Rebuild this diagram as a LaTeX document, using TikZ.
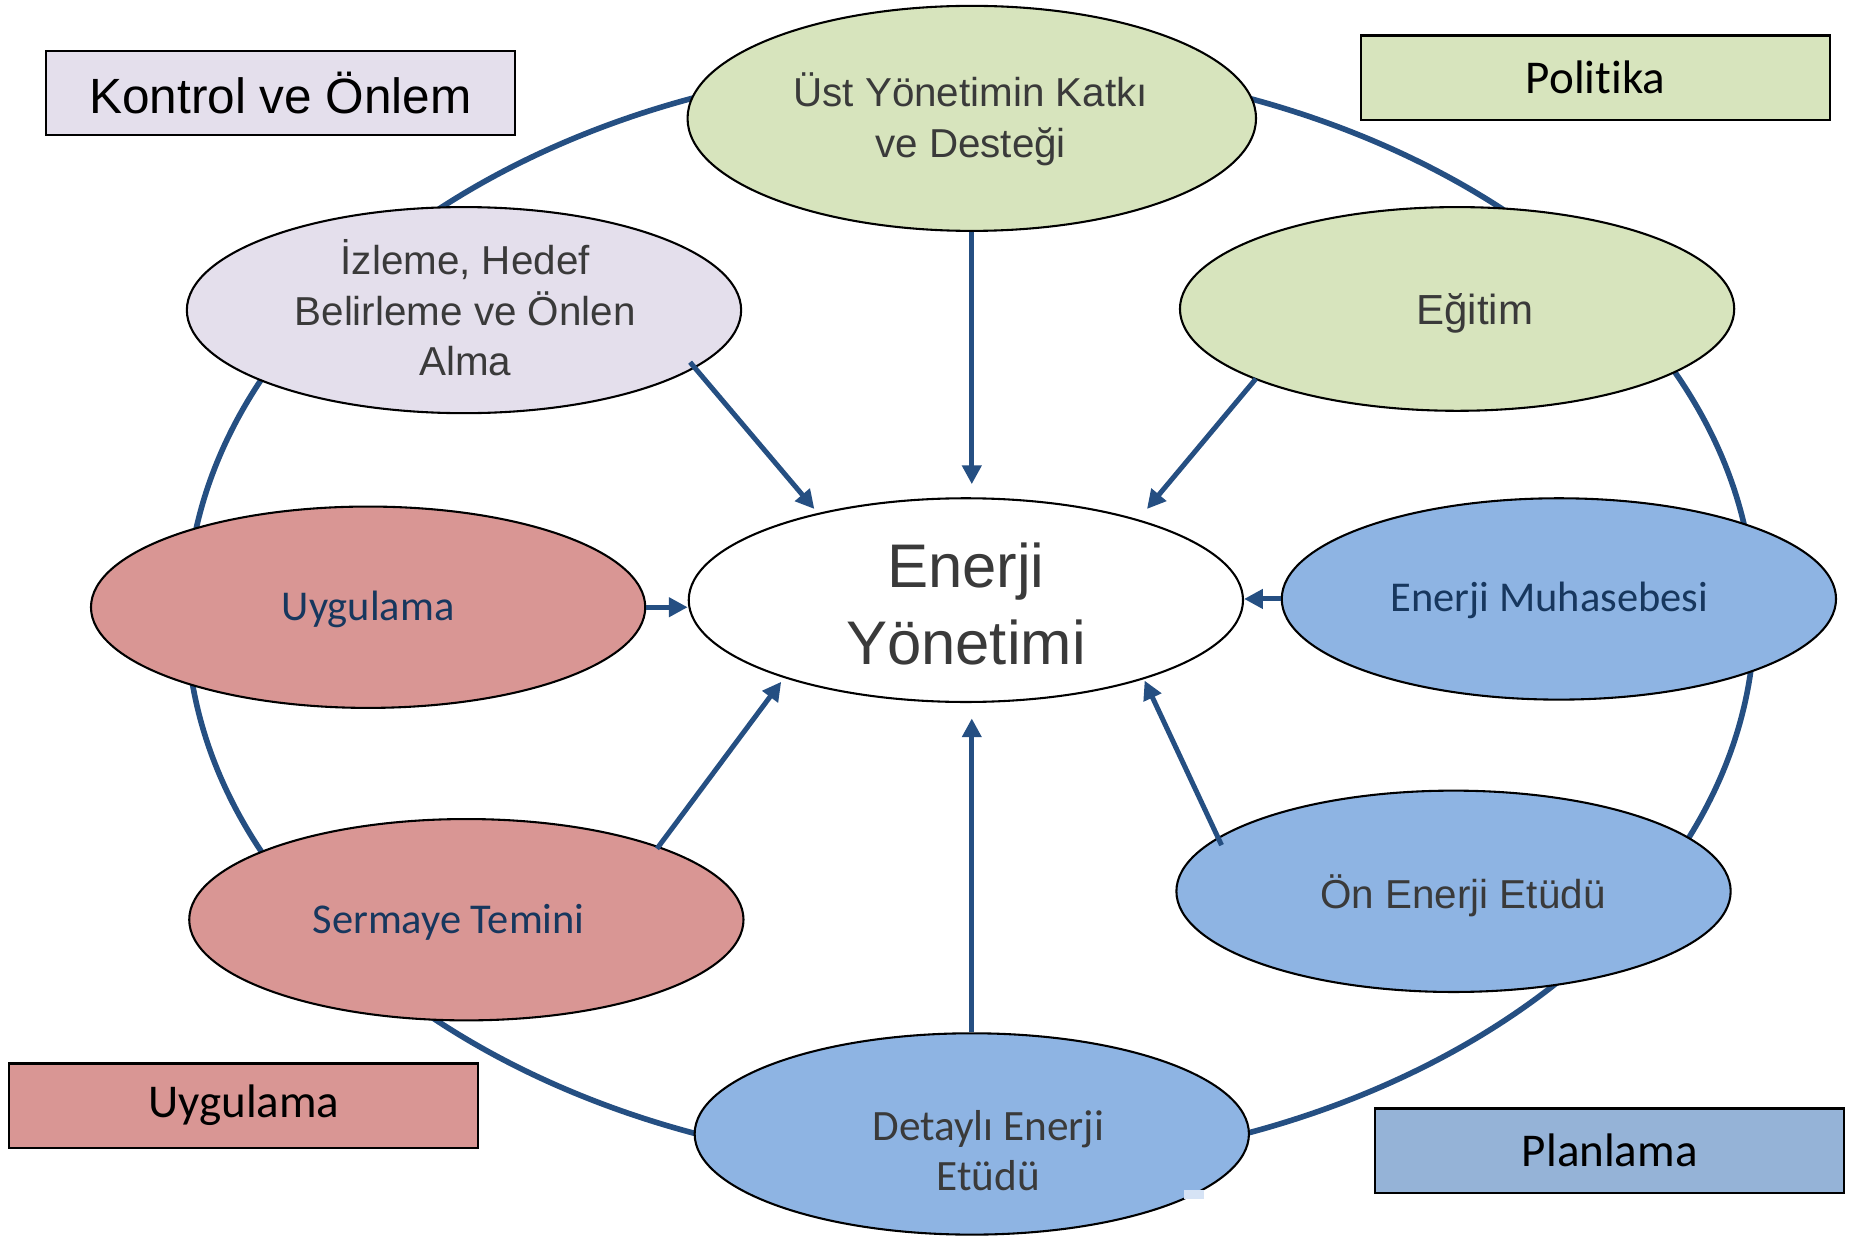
\documentclass[tikz,border=0pt]{standalone}
\usepackage{fontspec}
\setmainfont{Liberation Sans}
\newfontfamily\carlito[Ligatures=NoCommon]{Carlito}
\usetikzlibrary{shapes.geometric,arrows.meta,calc}
\definecolor{ringblue}{HTML}{254F82}
\definecolor{grn}{HTML}{D7E4BD}
\definecolor{lav}{HTML}{E4DFEC}
\definecolor{rd}{HTML}{D99694}
\definecolor{blu}{HTML}{8EB4E3}
\definecolor{boxblu}{HTML}{95B3D7}
\definecolor{gtxt}{HTML}{3A3A3A}
\definecolor{ntxt}{HTML}{17375E}
\definecolor{paleblu}{HTML}{D6E3F5}
\begin{document}
\begin{tikzpicture}[x=0.01cm,y=-0.01cm,
  ring/.style={draw=ringblue, line width=1.35pt},
  arr/.style={draw=ringblue, line width=1.2pt, -{Triangle[length=4.5pt,width=4.5pt]}},
  ell/.style={ellipse, draw=black, line width=0.5pt, minimum width=4.68cm, minimum height=1.7cm, inner sep=0pt},
  lbox/.style={rectangle, draw=black, line width=0.5pt, minimum width=3.96cm, minimum height=0.71cm, inner sep=0pt},
  gtext/.style={text=gtxt, align=center, inner sep=0pt, font=\fontsize{9.7}{12.2}\selectfont},
  ntext/.style={text=ntxt, align=center, inner sep=0pt, font=\carlito\fontsize{10.2}{12.2}\selectfont},
  btext/.style={text=black, inner sep=0pt, font=\carlito\fontsize{11.3}{13}\selectfont}
]
\useasboundingbox (0,0) rectangle (1568,1045);

% outer ring
\draw[ring] (820,520) ellipse [x radius=6.62cm, y radius=4.67cm];

% ellipses
\node[ell, fill=grn, minimum width=4.8cm, minimum height=1.9cm] (top) at (821,100) {};
\node[ell, fill=lav, minimum height=1.74cm] (izl) at (392,262) {};
\node[ell, fill=grn, minimum height=1.72cm] (egt) at (1231,261) {};
\node[ell, fill=white, minimum height=1.72cm] (em) at (816,507) {};
\node[ell, fill=rd] (uyg) at (311,513) {};
\node[ell, fill=blu] (muh) at (1317,506) {};
\node[ell, fill=rd] (ser) at (394,777) {};
\node[ell, fill=blu] (on) at (1228,753) {};
\node[ell, fill=blu] (det) at (821,958) {};
\fill[paleblu] (1000,1005) rectangle (1017,1013);

% texts
\node[gtext] (topT) at (820,101) {Üst Yönetimin Katkı\\ve Desteği};
\node[gtext] (izlT) at (393,260) {İzleme, Hedef\\Belirleme ve Önlen\\Alma};
\node[gtext, font=\fontsize{10.1}{12.2}\selectfont] (egtT) at (1246,265) {Eğitim};
\node[gtext, font=\fontsize{14.8}{18.5}\selectfont] (emT) at (816,510) {Enerji\\Yönetimi};
\node[ntext] (uygT) at (311,515) {Uygulama};
\node[ntext] (muhT) at (1309,507) {Enerji Muhasebesi};
\node[ntext] (serT) at (379,779) {Sermaye Temini};
\node[gtext] (onT) at (1236,757) {Ön Enerji Etüdü};
\node[gtext, font=\carlito\fontsize{10.4}{12.2}\selectfont] (detT) at (835,972) {Detaylı Enerji\\Etüdü};

% arrows
\draw[arr] (top.south) -- ($(em.north)+(5,-11)$);
\draw[arr] (det.north) -- ($(em.south)+(5,13)$);
\draw[arr] (uyg.east) -- (uyg.east -| em.west);
\draw[arr] (muh.west) -- (muh.west -| em.east);
\draw[arr] ($(izl.center)+(191,44)$) -- ($(em.center)+(-128,-77)$);
\draw[arr] ($(egt.center)+(-170,59)$) -- ($(em.center)+(153,-77)$);
\draw[arr] ($(ser.center)+(161,-60)$) -- ($(em.center)+(-156,69)$);
\draw[arr] ($(on.center)+(-196,-39)$) -- ($(em.center)+(151,68)$);

% legend boxes
\node[lbox, fill=lav, font=\fontsize{11.9}{14}\selectfont] (kb) at (237,78.5) {Kontrol ve Önlem};
\node[lbox, fill=grn, btext] (pb) at (1348,65.5) {Politika};
\node[lbox, fill=rd, btext] (ub) at (206,934) {Uygulama};
\node[lbox, fill=boxblu, btext] (plb) at (1360,972) {Planlama};
\end{tikzpicture}
\end{document}
